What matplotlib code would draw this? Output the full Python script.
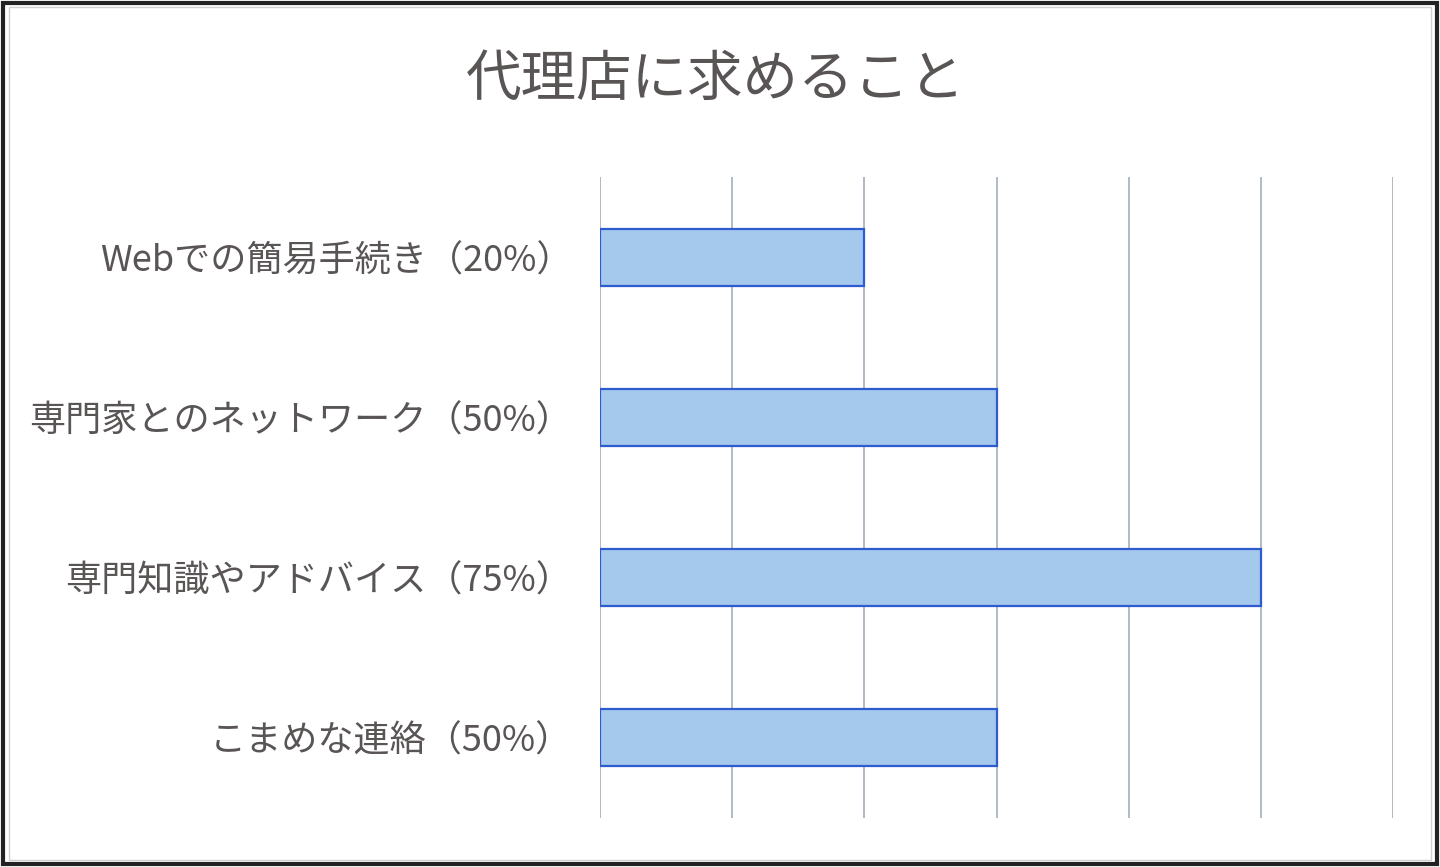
import matplotlib
matplotlib.use("Agg")
import matplotlib.pyplot as plt
from matplotlib.patches import Rectangle

plt.rcParams['font.family'] = ['Noto Sans CJK JP', 'DejaVu Sans']

title = "代理店に求めること"
categories = ["Webでの簡易手続き（20%）", "専門家とのネットワーク（50%）",
              "専門知識やアドバイス（75%）", "こまめな連絡（50%）"]
values = [2, 3, 5, 3]
x_max = 6

fig = plt.figure(figsize=(14.4, 8.67), dpi=100)
ax = fig.add_axes([600/1440, 1-818/867, (1393-600)/1440, (818-177)/867])

ypos = list(range(len(categories)))
ax.barh(ypos, values, height=0.355, color="#A5C9EC", edgecolor="#2F5BD0", linewidth=1.6, zorder=3)
ax.set_ylim(3.5, -0.5)
ax.set_xlim(0, x_max)
ax.set_xticks(range(0, x_max + 1))
ax.xaxis.grid(True, color="#A3AFBB", linewidth=1.2, zorder=0)
ax.tick_params(axis='x', length=0, labelbottom=False)
ax.tick_params(axis='y', length=0, pad=20)
ax.set_yticks(ypos)
ax.set_yticklabels(categories, fontsize=26, color="#5A5555")
for s in ax.spines.values():
    s.set_visible(False)

fig.text(716/1440, 1-80/867, title, ha='center', va='center', fontsize=40, color="#5A5555")

fig.patches.append(Rectangle((0.002, 0.003), 0.996, 0.994, transform=fig.transFigure,
                             fill=False, edgecolor="#222222", linewidth=3))
fig.patches.append(Rectangle((0.006, 0.008), 0.988, 0.984, transform=fig.transFigure,
                             fill=False, edgecolor="#D0D0D0", linewidth=1))

fig.savefig("out.png", dpi=100)
